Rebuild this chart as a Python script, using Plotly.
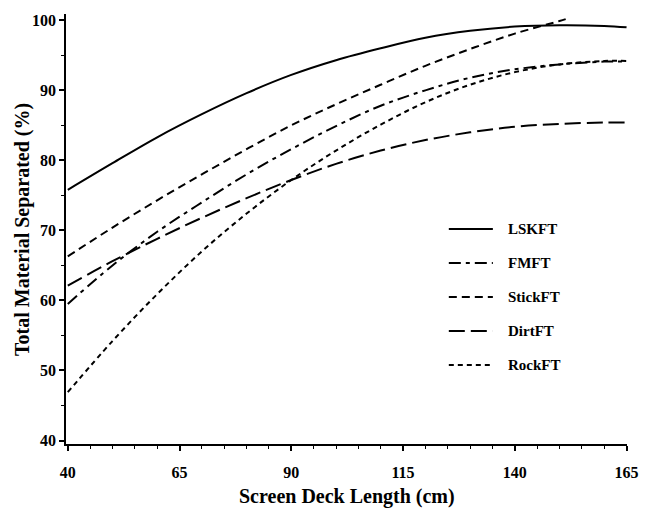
import plotly.graph_objects as go

# ---- data ----
x_vals = [40, 50, 60, 70, 80, 90, 100, 110, 120, 130, 140, 150, 160, 165]
lskft = [75.8, 79.6, 83.3, 86.6, 89.6, 92.2, 94.3, 96.0, 97.5, 98.5, 99.1, 99.3, 99.2, 99.0]
fmft = [59.5, 65.0, 69.8, 74.0, 78.0, 81.6, 84.9, 87.8, 90.0, 91.8, 93.0, 93.7, 94.1, 94.1]
dirtft = [62.1, 65.6, 68.8, 71.8, 74.6, 77.2, 79.5, 81.4, 82.9, 84.0, 84.8, 85.2, 85.4, 85.4]
rockft = [46.9, 54.2, 60.9, 67.0, 72.4, 77.2, 81.4, 85.1, 88.3, 90.8, 92.6, 93.7, 94.2, 94.2]
stick_x = [40, 50, 60, 70, 80, 90, 100, 110, 120, 130, 140, 150, 152]
stickft = [66.3, 70.4, 74.3, 78.0, 81.6, 85.0, 88.0, 90.8, 93.5, 95.9, 98.1, 99.9, 100.3]

x_ticks = [40, 65, 90, 115, 140, 165]
y_ticks = [40, 50, 60, 70, 80, 90, 100]

series = [
    ("LSKFT", x_vals, lskft, "solid"),
    ("FMFT", x_vals, fmft, "12px,5px,4px,5px"),
    ("StickFT", stick_x, stickft, "8px,5px"),
    ("DirtFT", x_vals, dirtft, "16px,6px"),
    ("RockFT", x_vals, rockft, "5px,4px"),
]

FONT = "Liberation Serif"

fig = go.Figure()
for name, xs, ys, dash in series:
    fig.add_trace(go.Scatter(
        x=xs, y=ys, name=name, mode="lines", showlegend=False,
        line=dict(color="black", width=2, dash=dash, shape="spline"),
    ))

W, H = 650, 510
L, R, T, B = 66, 11, 14, 66
pw, ph = W - L - R, H - T - B


def px_x(p):
    return (p - L) / pw


def px_y(p):
    return 1 - (p - T) / ph


# legend drawn as key samples + labels
leg_x0, leg_x1, leg_tx = 457, 502, 515
leg_y0, leg_dy = 229, 34
shapes, annos = [], []
for i, (name, xs, ys, dash) in enumerate(series):
    yy = px_y(leg_y0 + i * leg_dy)
    shapes.append(dict(type="line", xref="paper", yref="paper",
                       x0=px_x(leg_x0), x1=px_x(leg_x1), y0=yy, y1=yy,
                       line=dict(color="black", width=2, dash=dash)))
    annos.append(dict(xref="paper", yref="paper", x=px_x(leg_tx), y=yy,
                      xanchor="left", yanchor="middle", showarrow=False, text=name,
                      font=dict(family=FONT, size=15, color="black", weight="bold")))

# axis titles
annos.append(dict(xref="paper", yref="paper", x=0.5, y=px_y(497),
                  xanchor="center", yanchor="middle", showarrow=False,
                  text="Screen Deck Length (cm)",
                  font=dict(family=FONT, size=20, color="black", weight="bold")))
annos.append(dict(xref="paper", yref="paper", x=px_x(21), y=0.5,
                  xanchor="center", yanchor="middle", showarrow=False, textangle=-90,
                  text="Total Material Separated (%)",
                  font=dict(family=FONT, size=20, color="black", weight="bold")))

fig.update_layout(
    width=W, height=H,
    margin=dict(l=L, r=R, t=T, b=B),
    paper_bgcolor="white", plot_bgcolor="white",
    font=dict(family=FONT, color="black", size=16, weight="bold"),
    shapes=shapes, annotations=annos,
    hovermode=False,
    xaxis=dict(
        range=[39.6, 165.1], tickvals=x_ticks, ticktext=[str(v) for v in x_ticks],
        showgrid=False, zeroline=False, showline=True, linecolor="black", linewidth=1.5,
        ticks="outside", ticklen=5, tickwidth=1.5, tickcolor="black",
        ticklabeloverflow="allow", ticklabelstandoff=8,
        minor=dict(dtick=5, tick0=40, ticks="outside", ticklen=3, tickwidth=1, tickcolor="black", showgrid=False),
        tickfont=dict(family=FONT, size=16, weight="bold"),
    ),
    yaxis=dict(
        range=[39.5, 100.9], tickvals=y_ticks, ticktext=[str(v) for v in y_ticks],
        showgrid=False, zeroline=False, showline=True, linecolor="black", linewidth=1.5,
        ticks="outside", ticklen=5, tickwidth=1.5, tickcolor="black",
        minor=dict(dtick=5, tick0=40, ticks="outside", ticklen=3, tickwidth=1, tickcolor="black", showgrid=False),
        tickfont=dict(family=FONT, size=16, weight="bold"),
    ),
)

fig.write_html("out.html", config={"displayModeBar": False},
               post_script="document.body.style.margin='0px';")
